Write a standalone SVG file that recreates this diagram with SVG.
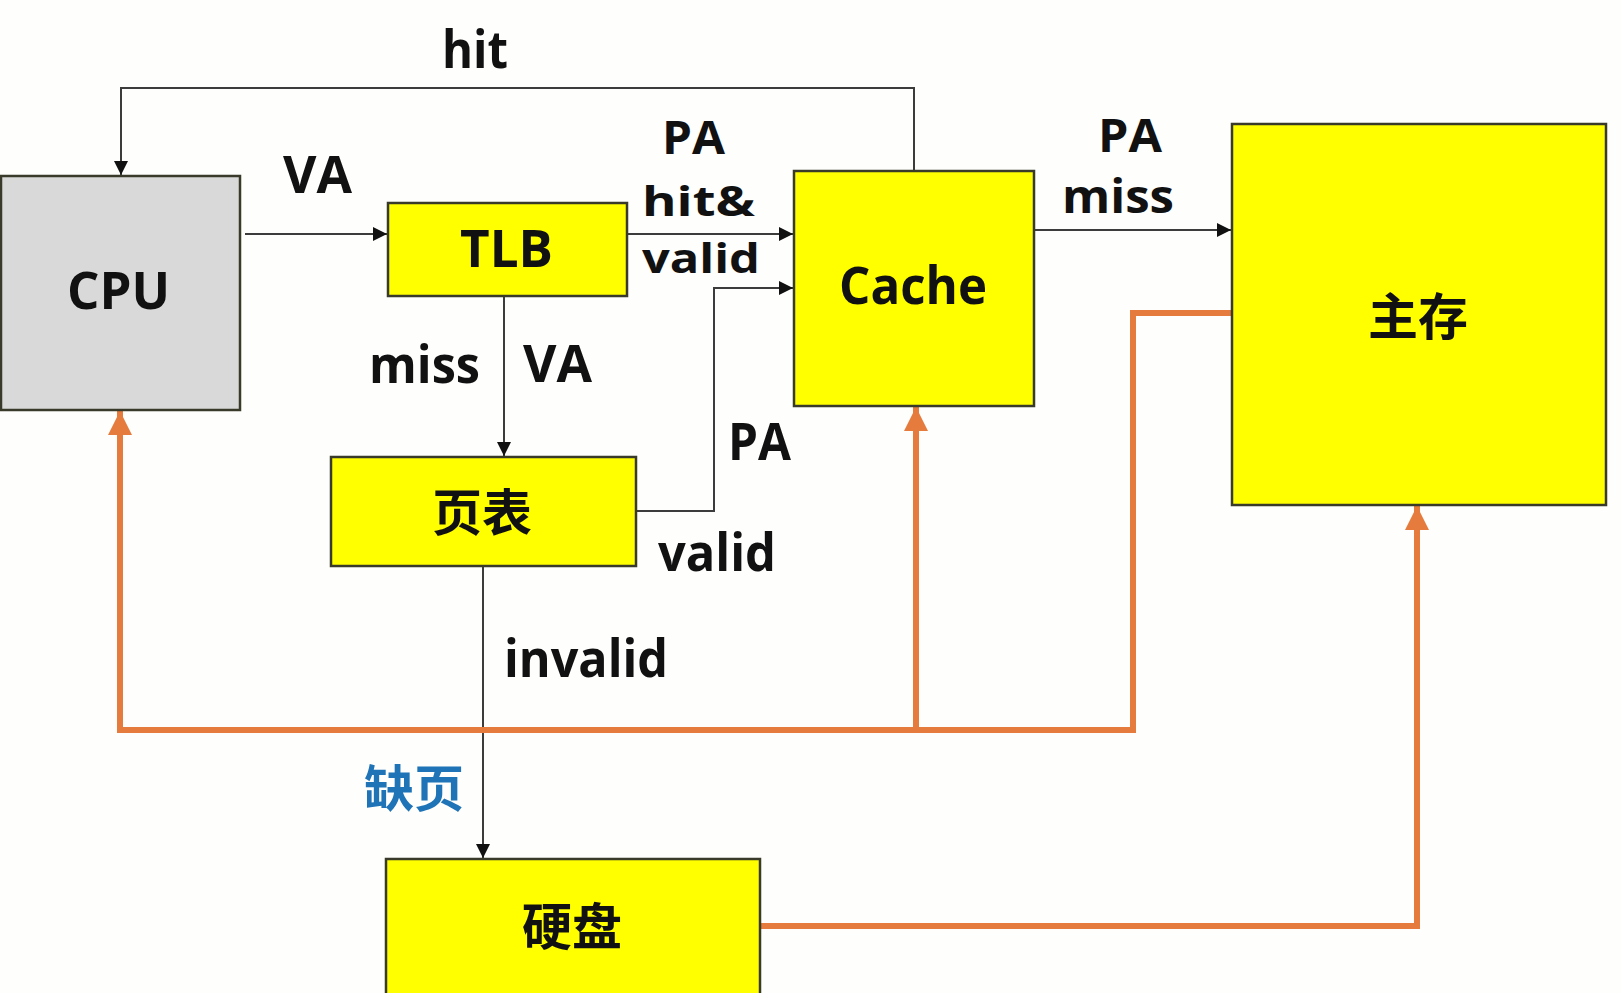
<svg xmlns="http://www.w3.org/2000/svg" width="1621" height="993" viewBox="0 0 1621 993">
<style>
.box{stroke:#3a3a2a;stroke-width:2.5}
.y{fill:#FFFF00}
.g{fill:#D9D9D9}
.t{font-family:"Open Sans","Noto Sans CJK SC",sans-serif;font-weight:bold;font-size:52px;fill:#111}
.s{font-size:46px}
.m{font-size:42px}
.c{font-family:"Noto Sans CJK SC",sans-serif;font-weight:bold;font-size:50px;fill:#111}
.blk{fill:none;stroke:#3c3c3c;stroke-width:2}
.org{fill:none;stroke:#E57B3C;stroke-width:6}
</style>
<defs>
<marker id="ab" markerUnits="userSpaceOnUse" markerWidth="16" markerHeight="14" refX="14" refY="7" orient="auto">
<path d="M0,0 L14,7 L0,14 Z" fill="#111"/>
</marker>
<marker id="ao" markerUnits="userSpaceOnUse" markerWidth="26" markerHeight="24" refX="24" refY="12" orient="auto">
<path d="M0,0 L24,12 L0,24 Z" fill="#E57B3C"/>
</marker>
</defs>
<rect width="1621" height="993" fill="#FEFEFD"/>

<g id="connectors">
<path class="blk" d="M914,171 V88 H121 V175" marker-end="url(#ab)"/>
<path class="blk" d="M245,234 H387" marker-end="url(#ab)"/>
<path class="blk" d="M627,234 H793" marker-end="url(#ab)"/>
<path class="blk" d="M636,511 H714 V288 H793" marker-end="url(#ab)"/>
<path class="blk" d="M504,296 V456" marker-end="url(#ab)"/>
<path class="blk" d="M1034,230 H1231" marker-end="url(#ab)"/>
<path class="blk" d="M483,566 V858" marker-end="url(#ab)"/>
<path class="org" d="M1232,313 H1133 V730 H120 V411" marker-end="url(#ao)"/>
<path class="org" d="M916,730 V407" marker-end="url(#ao)"/>
<path class="org" d="M760,926 H1417 V506" marker-end="url(#ao)"/>
</g>

<g id="cpu">
<rect class="box g" x="1" y="176" width="239" height="234"/>
<text class="t" x="67" y="309" textLength="103" lengthAdjust="spacingAndGlyphs">CPU</text>
</g>
<g id="tlb">
<rect class="box y" x="388" y="203" width="239" height="93"/>
<text class="t" x="460" y="267" textLength="93" lengthAdjust="spacingAndGlyphs">TLB</text>
</g>
<g id="cache">
<rect class="box y" x="794" y="171" width="240" height="235"/>
<text class="t" x="839" y="304" textLength="148" lengthAdjust="spacingAndGlyphs">Cache</text>
</g>
<g id="mainmem">
<rect class="box y" x="1232" y="124" width="374" height="381"/>
<text class="c" x="1418" y="335" text-anchor="middle">主存</text>
</g>
<g id="pagetable">
<rect class="box y" x="331" y="457" width="305" height="109"/>
<text class="c" x="482" y="531" text-anchor="middle">页表</text>
</g>
<g id="disk">
<rect class="box y" x="386" y="859" width="374" height="140"/>
<text class="c" x="572" y="945" text-anchor="middle">硬盘</text>
</g>

<g id="labels">
<text class="t" x="442" y="68" textLength="66" lengthAdjust="spacingAndGlyphs">hit</text>
<text class="t" x="283" y="193" textLength="69" lengthAdjust="spacingAndGlyphs">VA</text>
<text class="t s" x="662" y="154" textLength="63" lengthAdjust="spacingAndGlyphs">PA</text>
<text class="t m" x="642" y="216" textLength="113" lengthAdjust="spacingAndGlyphs">hit&amp;</text>
<text class="t m" x="642" y="273" textLength="118" lengthAdjust="spacingAndGlyphs">valid</text>
<text class="t" x="369" y="383" textLength="111" lengthAdjust="spacingAndGlyphs">miss</text>
<text class="t" x="523" y="382" textLength="69" lengthAdjust="spacingAndGlyphs">VA</text>
<text class="t" x="728" y="460" textLength="63" lengthAdjust="spacingAndGlyphs">PA</text>
<text class="t" x="658" y="571" textLength="118" lengthAdjust="spacingAndGlyphs">valid</text>
<text class="t" x="504" y="677" textLength="164" lengthAdjust="spacingAndGlyphs">invalid</text>
<text class="t s" x="1098" y="152" textLength="64" lengthAdjust="spacingAndGlyphs">PA</text>
<text class="t s" x="1062" y="213" textLength="112" lengthAdjust="spacingAndGlyphs">miss</text>
<text class="c" x="414" y="807" text-anchor="middle" style="fill:#1F73B7">缺页</text>
</g>
</svg>
